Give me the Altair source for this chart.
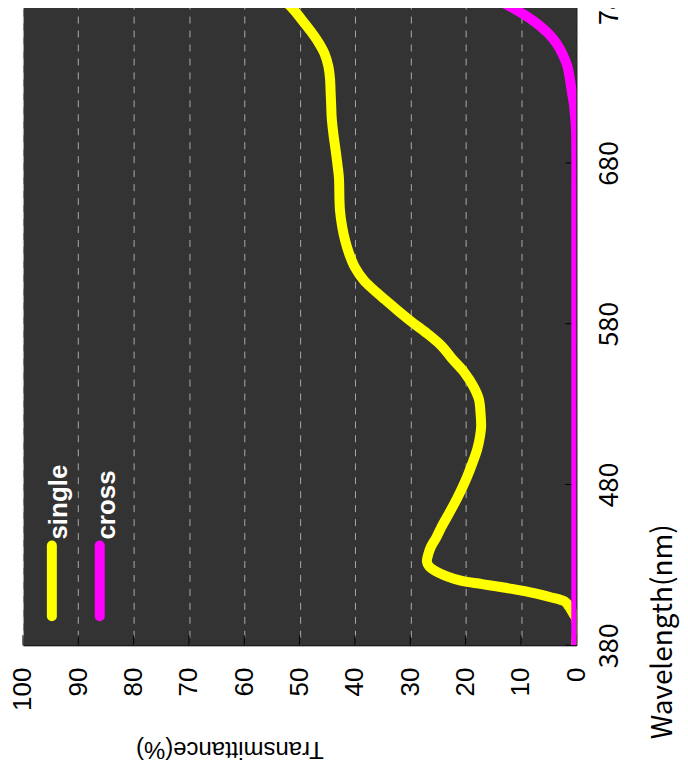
import altair as alt
import pandas as pd

# ---- data ----
single_wl = [380, 396, 400, 404, 407, 410, 413, 415, 418, 420, 423, 426, 429, 432, 436, 441,
             447, 454, 462, 471, 478, 485, 493, 502, 510, 516, 524, 533, 541, 550, 558, 566,
             574, 581, 588, 595, 601, 607, 615, 624, 632, 640, 650, 657, 671, 680, 688, 698,
             708, 716, 724, 732, 740, 748, 755, 762, 769, 775, 780]
single_t = [0, 0, 0.6, 1.3, 2.0, 4.8, 8.5, 11.6, 17.0, 20.7, 23.5, 25.4, 26.6, 27.0, 26.8, 26.3,
            25.3, 24.3, 23.0, 21.6, 20.6, 19.7, 18.8, 17.9, 17.4, 17.2, 17.3, 17.6, 18.6, 20.3, 22.4, 24.3,
            27.0, 29.7, 32.2, 34.6, 36.6, 38.4, 40.0, 41.1, 41.8, 42.3, 42.7, 42.8, 42.9, 43.2, 43.5, 43.9,
            44.2, 44.3, 44.4, 44.5, 44.8, 45.5, 46.6, 48.0, 49.6, 51.0, 52.4]

cross_wl = [380, 450, 550, 650, 700, 710, 718, 724, 732, 740, 747, 754, 760, 765, 769, 774, 780]
cross_t = [0, 0, 0, 0, 0.05, 0.25, 0.5, 0.8, 1.15, 1.6, 2.4, 3.5, 4.9, 6.5, 8.0, 10.3, 13.4]

series_names = ["single", "cross"]
series_colors = ["#ffff00", "#ff00ff"]

t_ticks = [0, 10, 20, 30, 40, 50, 60, 70, 80, 90, 100]
wl_ticks = [380, 480, 580, 680, 780]

df_single = pd.DataFrame({"wl": single_wl, "T": single_t, "series": "single"})
df_cross = pd.DataFrame({"wl": cross_wl, "T": cross_t, "series": "cross"})
df_tt = pd.DataFrame({"T": t_ticks})
df_wt = pd.DataFrame({"wl": wl_ticks})
df_leg = pd.DataFrame({"series": series_names})

W, H = 555, 645

x_axis = alt.Axis(
    orient="bottom", values=t_ticks, grid=True, gridColor="#aaaaaa", gridDash=[7, 7],
    gridWidth=1, ticks=False, domain=True, domainColor="#000000",
    labelAngle=270, labelAlign="right", labelBaseline="middle", labelPadding=22,
    labelFont="Liberation Sans", labelFontSize=26, labelColor="#000000",
    title="Transmittance(%)", titleFont="Liberation Sans", titleFontSize=24,
    titleFontWeight="normal", titleColor="#000000", titleAngle=180,
    titleX=207, titleY=104, titleAlign="center", titleBaseline="middle",
)
y_axis = alt.Axis(
    orient="right", values=wl_ticks, grid=False, ticks=False, domain=True,
    domainColor="#000000", labelAngle=270, labelAlign="center", labelBaseline="top",
    labelPadding=20, labelFont="Noto Sans CJK JP", labelFontSize=27, labelColor="#000000",
    title="Wavelength(nm)", titleFont="Noto Sans CJK JP", titleFontSize=28,
    titleFontWeight="normal", titleColor="#000000", titleAngle=270,
    titleX=87, titleY=631, titleAlign="center", titleBaseline="middle",
)

X = alt.X("T:Q", scale=alt.Scale(domain=[0, 100], reverse=True, nice=False, zero=False), axis=x_axis)
Y = alt.Y("wl:Q", scale=alt.Scale(domain=[380, 780], nice=False, zero=False), axis=y_axis)

# inward tick marks
t_tick_rules = alt.Chart(df_tt).mark_rule(color="#000000", strokeWidth=1).encode(
    x=X, y=alt.value(H), y2=alt.value(H - 10)
)
wl_tick_rules = alt.Chart(df_wt).mark_rule(color="#000000", strokeWidth=1).encode(
    y=Y, x=alt.value(W), x2=alt.value(W - 11)
)

line_kw = dict(strokeWidth=10, clip=True, interpolate="catmull-rom", strokeJoin="round")
line_single = alt.Chart(df_single).mark_line(color=series_colors[0], **line_kw).encode(
    x=X, y=Y, order=alt.Order("wl:Q")
)
line_cross = alt.Chart(df_cross).mark_line(color=series_colors[1], **line_kw).encode(
    x=X, y=Y, order=alt.Order("wl:Q")
)

legend_layers = []
leg_x = [29, 77]
for i, name in enumerate(series_names):
    base = alt.Chart(df_leg).transform_filter(alt.datum.series == name)
    legend_layers.append(
        base.mark_rule(color=series_colors[i], strokeWidth=10, strokeCap="round").encode(
            x=alt.value(leg_x[i]), y=alt.value(545), y2=alt.value(616)
        )
    )
    legend_layers.append(
        base.mark_text(angle=270, align="left", baseline="alphabetic", color="#ffffff",
                       font="Liberation Sans", fontWeight="bold", fontSize=26).encode(
            x=alt.value(leg_x[i] + 15), y=alt.value(539), text="series:N"
        )
    )

chart = alt.layer(
    t_tick_rules, wl_tick_rules, line_single, line_cross, *legend_layers
).properties(
    width=W, height=H,
    autosize=alt.AutoSizeParams(type="none"),
    padding={"left": 15, "top": -7, "right": 104, "bottom": 120},
).configure_view(
    fill="#333333", stroke="#808080", strokeWidth=1
)

chart.save("out.html", embed_options={"renderer": "svg", "actions": False})
